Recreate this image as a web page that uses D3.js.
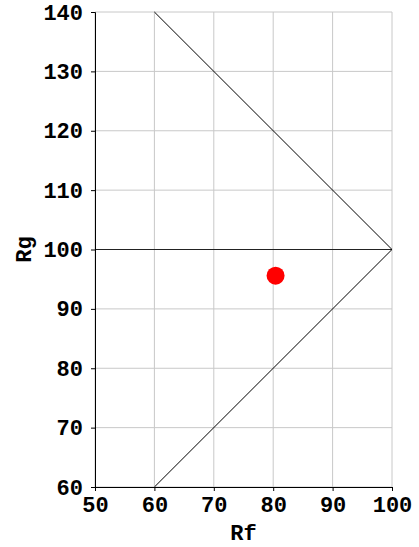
<!DOCTYPE html>
<html>
<head>
<meta charset="utf-8">
<style>
    body { margin: 0; background: #fff; }
    svg { display: block; }
    .axis text { font-family: 'Liberation Mono', 'Courier New', monospace; font-weight: bold; font-size: 22px; fill: #000; }
    .title { font-family: 'Liberation Mono', 'Courier New', monospace; font-weight: bold; font-size: 22px; }
</style>
</head>
<body>
<svg width="419" height="547"></svg>
<script src="https://d3js.org/d3.v7.min.js"></script>
<script>
// data
let xTicks = [50, 60, 70, 80, 90, 100];
let yTicks = [60, 70, 80, 90, 100, 110, 120, 130, 140];
let boundaryRf = [60, 100, 60];
let boundaryRg = [140, 100, 60];
let refLineRf = [50, 100];
let refLineRg = [100, 100];
let pointRf = [80.4];
let pointRg = [95.6];

let svg = d3.select("svg");
let margins = {top: 12, right: 27, bottom: 60, left: 95};
let width = 419, height = 547;

let x = d3.scaleLinear().domain([50, 100]).range([margins.left, width - margins.right]);
let y = d3.scaleLinear().domain([60, 140]).range([height - margins.bottom, margins.top]);

// grid
svg.append("g")
    .selectAll("line.vg")
    .data(xTicks)
    .join("line")
    .attr("x1", d => x(d)).attr("x2", d => x(d))
    .attr("y1", y(60)).attr("y2", y(140))
    .attr("stroke", "#c8c8c8").attr("stroke-width", 1);

svg.append("g")
    .selectAll("line.hg")
    .data(yTicks)
    .join("line")
    .attr("x1", x(50)).attr("x2", x(100))
    .attr("y1", d => y(d)).attr("y2", d => y(d))
    .attr("stroke", "#c8c8c8").attr("stroke-width", 1);

// lines
let line = d3.line().x(d => x(d[0])).y(d => y(d[1]));

svg.append("path")
    .attr("d", line(refLineRf.map((d, i) => [d, refLineRg[i]])))
    .attr("fill", "none").attr("stroke", "#222").attr("stroke-width", 1);

svg.append("path")
    .attr("d", line(boundaryRf.map((d, i) => [d, boundaryRg[i]])))
    .attr("fill", "none").attr("stroke", "#000").attr("stroke-width", 1);

// point
svg.append("g")
    .selectAll("circle")
    .data(pointRf)
    .join("circle")
    .attr("cx", d => x(d))
    .attr("cy", (d, i) => y(pointRg[i]))
    .attr("r", 9)
    .attr("fill", "#ff0000");

// axes
svg.append("g")
    .attr("class", "axis")
    .attr("transform", `translate(0,${y(60)})`)
    .call(d3.axisBottom(x).tickValues(xTicks).tickSize(4).tickPadding(5))
    .call(g => g.selectAll("path, line").attr("stroke", "#000"));

svg.append("g")
    .attr("class", "axis")
    .attr("transform", `translate(${x(50)},0)`)
    .call(d3.axisLeft(y).tickValues(yTicks).tickSize(4).tickPadding(8))
    .call(g => g.selectAll("path, line").attr("stroke", "#000"));

// titles
svg.append("text")
    .attr("class", "title")
    .attr("x", (x(50) + x(100)) / 2)
    .attr("y", 540)
    .attr("text-anchor", "middle")
    .text("Rf");

svg.append("text")
    .attr("class", "title")
    .attr("transform", `translate(31,${(y(60) + y(140)) / 2}) rotate(-90)`)
    .attr("text-anchor", "middle")
    .text("Rg");
</script>
</body>
</html>
